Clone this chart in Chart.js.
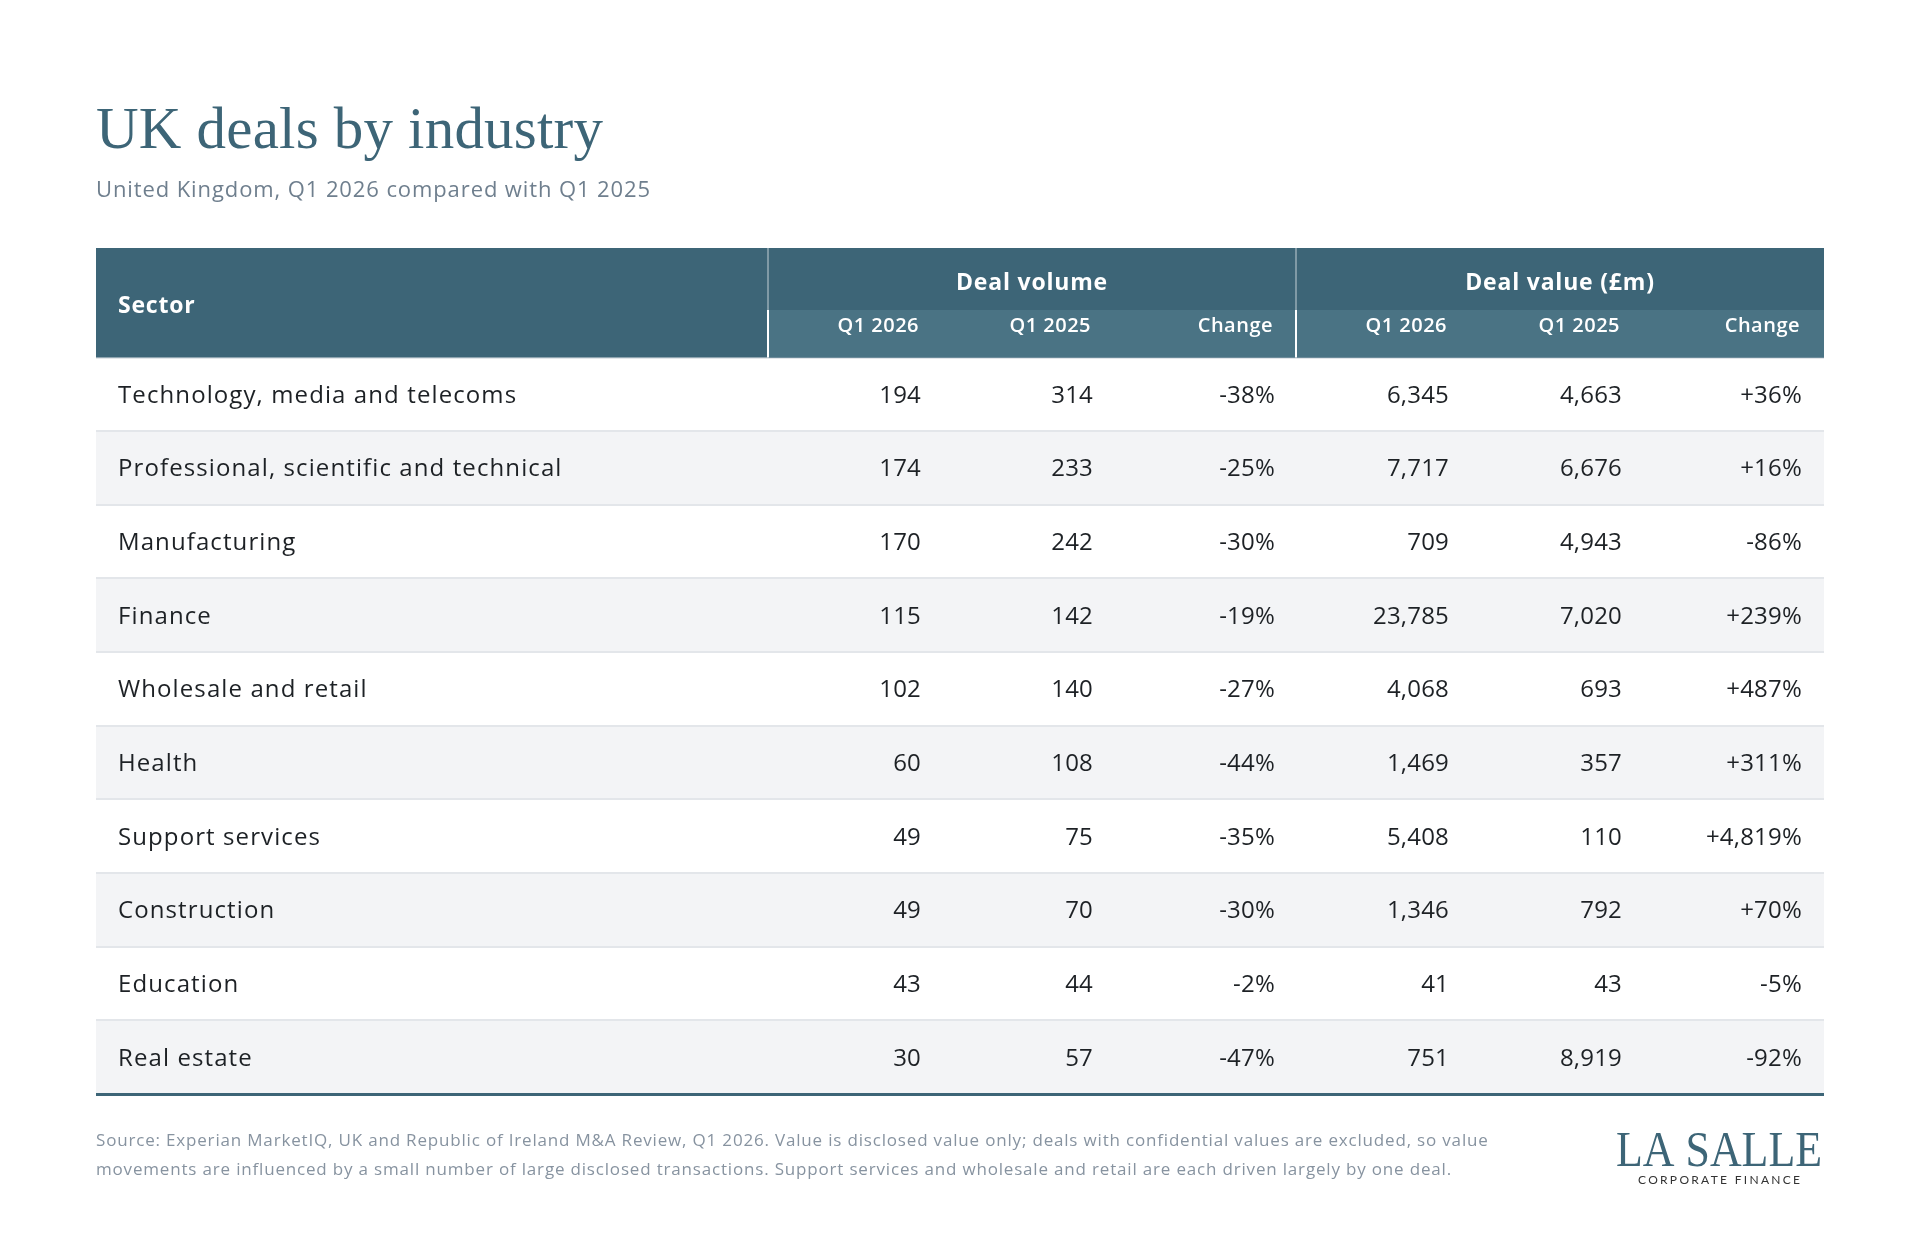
<!DOCTYPE html>
<html>
<head>
<meta charset="utf-8">
<title>UK deals by industry</title>
<script src="https://cdn.jsdelivr.net/npm/chart.js@4.4.1/dist/chart.umd.min.js"></script>
<style>
  html, body { margin: 0; padding: 0; background: #ffffff; }
  #wrap { width: 1920px; height: 1256px; position: relative; }
  canvas { display: block; }
</style>
</head>
<body>
<div id="wrap"><canvas id="chart" width="1920" height="1256"></canvas></div>
<script>
// ---------------- DATA ----------------
const chartTitle = 'UK deals by industry';
const chartSubtitle = 'United Kingdom, Q1 2026 compared with Q1 2025';
const sectorHeader = 'Sector';
const groupHeaders = ['Deal volume', 'Deal value (£m)'];
const columnHeaders = ['Q1 2026', 'Q1 2025', 'Change'];

const sectors = [
  'Technology, media and telecoms',
  'Professional, scientific and technical',
  'Manufacturing',
  'Finance',
  'Wholesale and retail',
  'Health',
  'Support services',
  'Construction',
  'Education',
  'Real estate'
];
const volumeQ1_2026 = [194, 174, 170, 115, 102, 60, 49, 49, 43, 30];
const volumeQ1_2025 = [314, 233, 242, 142, 140, 108, 75, 70, 44, 57];
const volumeChangePct = [-38, -25, -30, -19, -27, -44, -35, -30, -2, -47];
const valueQ1_2026 = [6345, 7717, 709, 23785, 4068, 1469, 5408, 1346, 41, 751];
const valueQ1_2025 = [4663, 6676, 4943, 7020, 693, 357, 110, 792, 43, 8919];
const valueChangePct = [36, 16, -86, 239, 487, 311, 4819, 70, -5, -92];

const footnoteLines = [
  'Source: Experian MarketIQ, UK and Republic of Ireland M&A Review, Q1 2026. Value is disclosed value only; deals with confidential values are excluded, so value',
  'movements are influenced by a small number of large disclosed transactions. Support services and wholesale and retail are each driven largely by one deal.'
];
const logoMain = 'LA SALLE';
const logoSub = 'CORPORATE FINANCE';

// ---------------- LAYOUT / STYLE ----------------
const TABLE_W = 1728;                 // x-scale units = table pixels
const SECTOR_COL_END = 672;           // first separator
const VOLUME_GROUP_END = 1200;        // second separator
const SECTOR_TEXT_X = 22;
const VOLUME_ANCHORS = [825, 997, 1179];   // right edges of text
const VALUE_ANCHORS = [1353, 1526, 1706];

const C = {
  teal: '#3d6577',
  tealSub: '#4a7384',
  stripe: '#f3f4f6',
  grid: '#e3e6ea',
  text: '#1d2125',
  subtitle: '#6f7f8e',
  footer: '#8793a0',
  logoSub: '#333333'
};
const SANS = '"Open Sans", "Noto Sans", Arial, sans-serif';
const SERIF = '"Liberation Serif", "DejaVu Serif", serif';

const fmtInt = n => n.toLocaleString('en-US');
const fmtPct = n => (n > 0 ? '+' : '') + n.toLocaleString('en-US') + '%';

const columns = [
  { values: volumeQ1_2026, fmt: fmtInt, anchor: VOLUME_ANCHORS[0] },
  { values: volumeQ1_2025, fmt: fmtInt, anchor: VOLUME_ANCHORS[1] },
  { values: volumeChangePct, fmt: fmtPct, anchor: VOLUME_ANCHORS[2] },
  { values: valueQ1_2026, fmt: fmtInt, anchor: VALUE_ANCHORS[0] },
  { values: valueQ1_2025, fmt: fmtInt, anchor: VALUE_ANCHORS[1] },
  { values: valueChangePct, fmt: fmtPct, anchor: VALUE_ANCHORS[2] }
];

function setLS(ctx, v) { try { ctx.letterSpacing = v; } catch (e) {} }

const tablePlugin = {
  id: 'tablePlugin',
  afterDraw(chart) {
    const ctx = chart.ctx;
    const xs = chart.scales.x;
    const ys = chart.scales.y;
    const area = chart.chartArea;
    const X = v => xs.getPixelForValue(v);
    const left = X(0), right = X(TABLE_W);
    const sep1 = X(SECTOR_COL_END), sep2 = X(VOLUME_GROUP_END);
    const headTop = area.top - 109.5;
    const headMid = area.top - 47.5;
    const headBot = area.top;

    ctx.save();
    // ---- title & subtitle
    ctx.textAlign = 'left';
    ctx.textBaseline = 'alphabetic';
    ctx.fillStyle = C.teal;
    ctx.font = '400 59px ' + SERIF;
    setLS(ctx, '0.2px');
    ctx.fillText(chartTitle, left, 148);
    ctx.fillStyle = C.subtitle;
    ctx.font = '400 22px ' + SANS;
    setLS(ctx, '0.9px');
    ctx.fillText(chartSubtitle, left, 197);

    // ---- header background
    ctx.fillStyle = C.teal;
    ctx.fillRect(left, headTop, right - left, headBot - headTop);
    ctx.fillStyle = C.tealSub;
    ctx.fillRect(sep1, headMid, right - sep1, headBot - headMid);
    // separators
    [sep1, sep2].forEach(sx => {
      ctx.fillStyle = 'rgba(255,255,255,0.35)';
      ctx.fillRect(sx - 1, headTop, 2, headMid - headTop);
      ctx.fillStyle = '#ffffff';
      ctx.fillRect(sx - 1, headMid, 2, headBot - headMid);
    });

    // ---- header text
    ctx.fillStyle = '#ffffff';
    ctx.font = '700 23px ' + SANS;
    setLS(ctx, '0.8px');
    ctx.textAlign = 'left';
    ctx.fillText(sectorHeader, X(SECTOR_TEXT_X), 313);
    ctx.textAlign = 'center';
    ctx.fillText(groupHeaders[0], (sep1 + sep2) / 2, 290);
    ctx.fillText(groupHeaders[1], (sep2 + right) / 2, 290);
    ctx.font = '600 20px ' + SANS;
    setLS(ctx, '0.5px');
    ctx.textAlign = 'right';
    columns.forEach((col, k) => {
      ctx.fillText(columnHeaders[k % 3], X(col.anchor) - 2, 332);
    });

    // ---- cells
    ctx.fillStyle = C.text;
    sectors.forEach((name, i) => {
      const yc = ys.getPixelForValue(i);
      const base = yc + 8.5;
      ctx.textAlign = 'left';
      ctx.font = '400 24px ' + SANS;
      setLS(ctx, '1.1px');
      ctx.fillText(name, X(SECTOR_TEXT_X), base);
      ctx.textAlign = 'right';
      setLS(ctx, '0.2px');
      columns.forEach(col => {
        ctx.fillText(col.fmt(col.values[i]), X(col.anchor), base);
      });
    });

    // ---- footnote
    ctx.textAlign = 'left';
    ctx.fillStyle = C.footer;
    ctx.font = '400 17px ' + SANS;
    setLS(ctx, '0px');
    const target1 = 1393;
    const w1 = ctx.measureText(footnoteLines[0]).width;
    const ls = (target1 - w1) / footnoteLines[0].length;
    setLS(ctx, ls.toFixed(2) + 'px');
    ctx.fillText(footnoteLines[0], left, 1146);
    ctx.fillText(footnoteLines[1], left, 1175);

    // ---- logo
    ctx.fillStyle = C.teal;
    ctx.font = '400 50px ' + SERIF;
    setLS(ctx, '0px');
    const lw = ctx.measureText(logoMain).width;
    const sx = 206 / lw;
    ctx.save();
    ctx.translate(right - 2, 1166);
    ctx.scale(sx, 1);
    ctx.textAlign = 'right';
    ctx.fillText(logoMain, 0, 0);
    ctx.restore();
    ctx.fillStyle = C.logoSub;
    ctx.font = '400 12px Lato, ' + SANS;
    setLS(ctx, '0px');
    const sw = ctx.measureText(logoSub).width;
    const sls = (162 - sw) / (logoSub.length - 1);
    setLS(ctx, sls.toFixed(2) + 'px');
    ctx.textAlign = 'left';
    ctx.fillText(logoSub, 1719 - 81, 1184);
    ctx.restore();
  }
};

new Chart(document.getElementById('chart'), {
  type: 'bar',
  data: {
    labels: sectors,
    datasets: [{
      label: 'rows',
      data: sectors.map(() => [0, TABLE_W]),
      backgroundColor: ctx => (ctx.dataIndex % 2 === 1 ? C.stripe : '#ffffff'),
      borderWidth: 0,
      barPercentage: 1,
      categoryPercentage: 1
    }]
  },
  options: {
    indexAxis: 'y',
    responsive: false,
    animation: false,
    events: [],
    devicePixelRatio: 1,
    layout: { padding: { left: 96, right: 96, top: 357.5, bottom: 162 } },
    plugins: { legend: { display: false }, tooltip: { enabled: false }, title: { display: false } },
    scales: {
      x: { type: 'linear', min: 0, max: TABLE_W, display: false },
      y: {
        type: 'category',
        offset: true,
        display: true,
        ticks: { display: false },
        border: { display: false },
        grid: {
          offset: true,
          drawTicks: false,
          z: 1,
          color: ctx => (ctx.tick === undefined ? C.teal : C.grid),
          lineWidth: ctx => (ctx.tick === undefined ? 3 : 2)
        }
      }
    }
  },
  plugins: [tablePlugin]
});
</script>
</body>
</html>
